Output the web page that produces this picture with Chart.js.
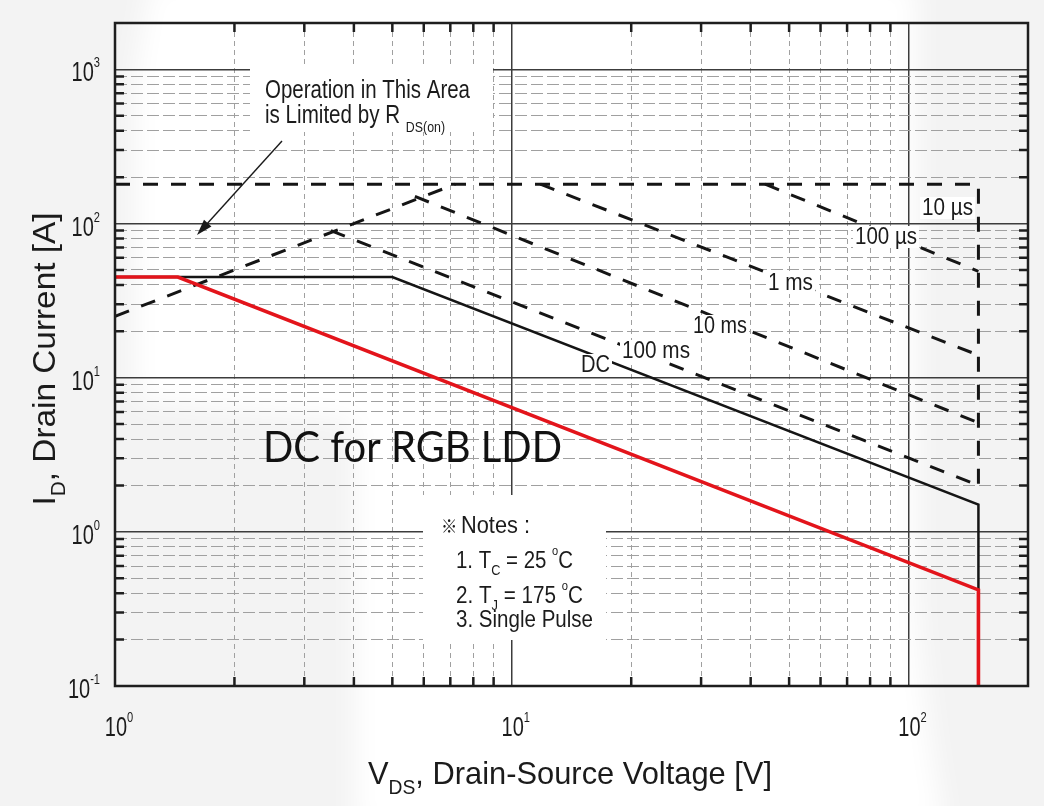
<!DOCTYPE html>
<html>
<head>
<meta charset="utf-8">
<title>Safe Operating Area</title>
<script src="https://cdn.jsdelivr.net/npm/chart.js@4.4.1/dist/chart.umd.min.js"></script>
<style>
  html, body { margin: 0; padding: 0; background: #f3f3f3; }
  #wrap { width: 1044px; height: 806px; position: relative; }
  canvas { display: block; }
</style>
</head>
<body>
<div id="wrap"><canvas id="soa" width="1044" height="806"></canvas></div>
<script>
// ---- axis ticks (log decades with 2..9 minors) ----
const voltageTicks = [1, 2, 3, 4, 5, 6, 7, 8, 9, 10, 20, 30, 40, 50, 60, 70, 80, 90, 100, 200];
const currentTicks = [0.1, 0.2, 0.3, 0.4, 0.5, 0.6, 0.7, 0.8, 0.9,
                      1, 2, 3, 4, 5, 6, 7, 8, 9,
                      10, 20, 30, 40, 50, 60, 70, 80, 90,
                      100, 200, 300, 400, 500, 600, 700, 800, 900,
                      1000, 2000];
const voltageLabelValues = [1, 10, 100];
const voltageLabelExps = ['0', '1', '2'];
const currentLabelValues = [0.1, 1, 10, 100, 1000];
const currentLabelExps = ['-1', '0', '1', '2', '3'];

// ---- SOA boundary curves: drain-source voltage [V] / drain current [A] ----
const rdsLimitV = [1, 7.2];
const rdsLimitI = [25, 180];
const pulse10usV = [1, 150, 150];
const pulse10usI = [180, 180, 2];
const pulse100usV = [43.5, 150];
const pulse100usI = [180, 49];
const pulse1msV = [11.8, 150];
const pulse1msI = [180, 14];
const pulse10msV = [5.7, 150];
const pulse10msI = [150, 5.1];
const pulse100msV = [3.5, 150];
const pulse100msI = [90, 2.0];
const dcV = [1, 5, 150, 150];
const dcI = [45, 45, 1.5, 0.1];
const rgbLddV = [1, 1.44, 150, 150];
const rgbLddI = [45, 45, 0.42, 0.1];

const SANS = "'Liberation Sans', Arial, Helvetica, sans-serif";
const INK = '#1b1b1b';
const PAPER_GREY = '#f3f3f3';

function pts(xs, ys) { return xs.map((x, i) => ({ x: x, y: ys[i] })); }
function isDecade(v) { const l = Math.log10(v); return Math.abs(l - Math.round(l)) < 1e-9; }

// draws a run of text pieces (sub/superscripts via dy), optionally squeezed to a width
function drawParts(ctx, parts, x, y, opt) {
  opt = opt || {};
  const widths = parts.map(p => {
    ctx.font = p.s + 'px ' + (p.f || opt.family || SANS);
    return ctx.measureText(p.t).width;
  });
  const natural = widths.reduce((a, b) => a + b, 0);
  const sx = opt.width ? opt.width / natural : (opt.sx || 1);
  const total = natural * sx;
  const start = opt.align === 'center' ? -total / 2 : (opt.align === 'right' ? -total : 0);
  ctx.save();
  ctx.translate(x, y);
  if (opt.rotate) ctx.rotate(opt.rotate);
  if (opt.bg) {
    ctx.fillStyle = '#ffffff';
    ctx.fillRect(start - opt.bg[0], -opt.bg[1], total + 2 * opt.bg[0], opt.bg[1] + opt.bg[2]);
  }
  ctx.scale(sx, 1);
  ctx.fillStyle = opt.color || INK;
  ctx.textBaseline = 'alphabetic';
  ctx.textAlign = 'left';
  let cx = start / sx;
  parts.forEach((p, i) => {
    ctx.font = p.s + 'px ' + (p.f || opt.family || SANS);
    ctx.fillText(p.t, cx, p.dy || 0);
    cx += widths[i];
  });
  ctx.restore();
}

const decor = {
  id: 'decor',
  beforeDraw(chart) {
    const { ctx, chartArea: a } = chart;
    ctx.save();
    ctx.fillStyle = PAPER_GREY;
    ctx.fillRect(0, 0, chart.width, chart.height);
    // soft lighter sheet behind the middle of the graph
    ctx.filter = 'blur(14px)';
    ctx.fillStyle = '#ffffff';
    ctx.beginPath();
    ctx.moveTo(150, -20);
    ctx.lineTo(917, -20);
    ctx.lineTo(917, 600);
    ctx.quadraticCurveTo(925, 720, 945, 830);
    ctx.lineTo(355, 830);
    ctx.lineTo(355, 420);
    ctx.lineTo(a.left + 20, 400);
    ctx.lineTo(a.left + 20, 70);
    ctx.closePath();
    ctx.fill();
    ctx.filter = 'none';
    ctx.restore();
  },
  afterDatasetsDraw(chart) {
    const { ctx, chartArea: a } = chart;
    const xs = chart.scales.x, ys = chart.scales.y;
    ctx.save();

    // inner minor tick marks on all four sides
    ctx.strokeStyle = '#1e1e1e';
    ctx.lineWidth = 2.5;
    ctx.beginPath();
    voltageTicks.forEach(v => {
      if (isDecade(v) || v <= xs.min || v >= xs.max) return;
      const p = xs.getPixelForValue(v);
      ctx.moveTo(p, a.bottom); ctx.lineTo(p, a.bottom - 9);
      ctx.moveTo(p, a.top); ctx.lineTo(p, a.top + 9);
    });
    currentTicks.forEach(v => {
      if (isDecade(v) || v <= ys.min || v >= ys.max) return;
      const p = ys.getPixelForValue(v);
      ctx.moveTo(a.left, p); ctx.lineTo(a.left + 9, p);
      ctx.moveTo(a.right, p); ctx.lineTo(a.right - 9, p);
    });
    ctx.stroke();

    // plot frame
    ctx.lineWidth = 2.5;
    ctx.strokeRect(a.left, a.top, a.right - a.left, a.bottom - a.top);

    // R_DS(on) note with its arrow
    ctx.fillStyle = '#ffffff';
    ctx.fillRect(250, 65, 243, 67);
    drawParts(ctx, [{ t: 'Operation in This Area', s: 25 }], 265, 98, { width: 205 });
    drawParts(ctx, [{ t: 'is Limited by R ', s: 25 }, { t: 'DS(on)', s: 15, dy: 9 }], 265, 123, { width: 180 });
    ctx.strokeStyle = INK;
    ctx.fillStyle = INK;
    ctx.lineWidth = 1.4;
    const ax0 = 282, ay0 = 141, ax1 = 197, ay1 = 235;
    const ang = Math.atan2(ay1 - ay0, ax1 - ax0);
    ctx.beginPath();
    ctx.moveTo(ax0, ay0);
    ctx.lineTo(ax1 - 10 * Math.cos(ang), ay1 - 10 * Math.sin(ang));
    ctx.stroke();
    ctx.beginPath();
    ctx.moveTo(ax1, ay1);
    ctx.lineTo(ax1 - 16 * Math.cos(ang) + 5 * Math.sin(ang), ay1 - 16 * Math.sin(ang) - 5 * Math.cos(ang));
    ctx.lineTo(ax1 - 16 * Math.cos(ang) - 5 * Math.sin(ang), ay1 - 16 * Math.sin(ang) + 5 * Math.cos(ang));
    ctx.closePath();
    ctx.fill();

    // curve names
    const lbl = { bg: [2, 18, 4] };
    drawParts(ctx, [{ t: '10 µs', s: 23 }], 922, 215, Object.assign({ width: 51 }, lbl));
    drawParts(ctx, [{ t: '100 µs', s: 23 }], 855, 244, Object.assign({ width: 62 }, lbl));
    drawParts(ctx, [{ t: '1 ms', s: 23 }], 768, 290, Object.assign({ width: 45 }, lbl));
    drawParts(ctx, [{ t: '10 ms', s: 23 }], 693, 333, Object.assign({ width: 54 }, lbl));
    drawParts(ctx, [{ t: '100 ms', s: 23 }], 622, 358, Object.assign({ width: 68 }, lbl));
    drawParts(ctx, [{ t: 'DC', s: 23 }], 581, 372, Object.assign({ width: 29 }, lbl));

    // big caption for the red curve
    drawParts(ctx, [{ t: 'DC for RGB LDD', s: 43 }], 263, 462, { width: 299, family: "Lato, 'Open Sans', sans-serif", color: '#111' });

    // test-condition notes
    ctx.fillStyle = '#ffffff';
    ctx.fillRect(423, 495, 183, 145);
    drawParts(ctx, [{ t: '※ ', s: 18, f: "'Noto Sans CJK JP', 'DejaVu Sans', sans-serif" }, { t: 'Notes :', s: 24 }], 441, 533, { width: 89 });
    drawParts(ctx, [{ t: '1. T', s: 24 }, { t: 'C', s: 15, dy: 7 }, { t: ' = 25 ', s: 24 }, { t: 'o', s: 13, dy: -13 }, { t: 'C', s: 24 }], 456, 568, { width: 117 });
    drawParts(ctx, [{ t: '2. T', s: 24 }, { t: 'J', s: 15, dy: 7 }, { t: ' = 175 ', s: 24 }, { t: 'o', s: 13, dy: -13 }, { t: 'C', s: 24 }], 456, 603, { width: 127 });
    drawParts(ctx, [{ t: '3. Single Pulse', s: 24 }], 456, 627, { width: 137 });

    // decade tick labels
    voltageLabelValues.forEach((v, i) => {
      const p = xs.getPixelForValue(v);
      drawParts(ctx, [{ t: '10', s: 27 }, { t: voltageLabelExps[i], s: 15, dy: -14 }], p + 4, 736, { align: 'center', sx: 0.74 });
    });
    currentLabelValues.forEach((v, i) => {
      const p = ys.getPixelForValue(v);
      drawParts(ctx, [{ t: '10', s: 27 }, { t: currentLabelExps[i], s: 15, dy: -14 }], 100, p + 12, { align: 'right', sx: 0.74 });
    });

    // axis titles
    drawParts(ctx, [{ t: 'V', s: 32 }, { t: 'DS', s: 20, dy: 10 }, { t: ', Drain-Source Voltage [V]', s: 32 }], 570, 784, { align: 'center', width: 404 });
    drawParts(ctx, [{ t: 'I', s: 32 }, { t: 'D', s: 20, dy: 10 }, { t: ', Drain Current [A]', s: 32 }], 55, 359, { align: 'center', width: 293, rotate: -Math.PI / 2 });

    ctx.restore();
  }
};

const dashed = { borderColor: '#151515', borderWidth: 3, borderDash: [15, 13] };
const ticksFrom = list => scale => { scale.ticks = list.map(v => ({ value: v, major: isDecade(v) })); };
const gridColor = c => (c.tick && c.tick.major) ? '#3c3c3c' : '#a0a0a0';
const gridWidth = c => (c.tick && c.tick.major) ? 1.5 : 1;

new Chart(document.getElementById('soa'), {
  type: 'line',
  data: {
    datasets: [
      { label: 'DC for RGB LDD', data: pts(rgbLddV, rgbLddI), borderColor: '#e3141b', borderWidth: 3.6 },
      { label: 'DC', data: pts(dcV, dcI), borderColor: '#151515', borderWidth: 2.5 },
      Object.assign({ label: 'RDS(on) limit', data: pts(rdsLimitV, rdsLimitI) }, dashed),
      Object.assign({ label: '10 µs', data: pts(pulse10usV, pulse10usI) }, dashed),
      Object.assign({ label: '100 µs', data: pts(pulse100usV, pulse100usI) }, dashed),
      Object.assign({ label: '1 ms', data: pts(pulse1msV, pulse1msI) }, dashed),
      Object.assign({ label: '10 ms', data: pts(pulse10msV, pulse10msI) }, dashed),
      Object.assign({ label: '100 ms', data: pts(pulse100msV, pulse100msI) }, dashed)
    ]
  },
  options: {
    responsive: false,
    devicePixelRatio: 1,
    animation: false,
    layout: { padding: { left: 115, top: 23, right: 16, bottom: 120 } },
    elements: { point: { radius: 0 }, line: { tension: 0, fill: false } },
    plugins: { legend: { display: false }, tooltip: { enabled: false } },
    scales: {
      x: {
        type: 'logarithmic', min: 1, max: 200,
        afterBuildTicks: ticksFrom(voltageTicks),
        ticks: { display: false },
        grid: { drawTicks: false, color: gridColor, lineWidth: gridWidth },
        border: { display: false, dash: c => (c.tick && !c.tick.major) ? [5, 4] : [] }
      },
      y: {
        type: 'logarithmic', min: 0.1, max: 2000,
        afterBuildTicks: ticksFrom(currentTicks),
        ticks: { display: false },
        grid: { drawTicks: false, color: gridColor, lineWidth: gridWidth },
        border: { display: false, dash: c => (c.tick && !c.tick.major) ? [12, 4] : [] }
      }
    }
  },
  plugins: [decor]
});
</script>
</body>
</html>
